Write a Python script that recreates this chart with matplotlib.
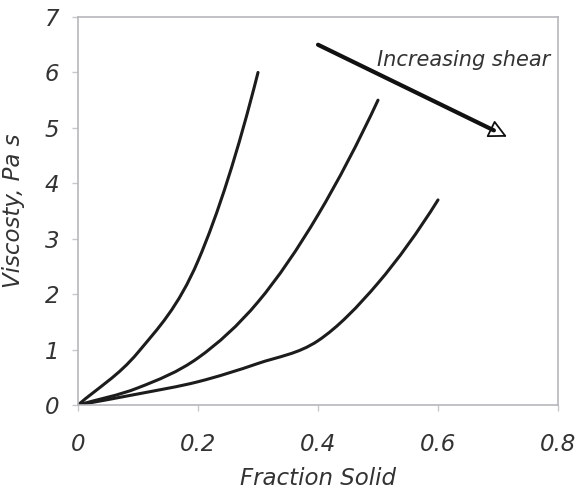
import numpy as np
import matplotlib
matplotlib.use('Agg')
import matplotlib.pyplot as plt
from matplotlib.path import Path
from matplotlib.patches import PathPatch

# values
frac_1 = [0, 0.1, 0.2, 0.3]
visc_1 = [0, 0.95, 2.6, 6.0]

frac_2 = [0, 0.1, 0.2, 0.3, 0.4, 0.5]
visc_2 = [0, 0.31, 0.85, 1.86, 3.43, 5.5]

frac_3 = [0, 0.1, 0.2, 0.3, 0.4, 0.5, 0.6]
visc_3 = [0, 0.2, 0.42, 0.75, 1.16, 2.2, 3.7]

x_ticks = [0, 0.2, 0.4, 0.6, 0.8]
x_tick_labels = ['0', '0.2', '0.4', '0.6', '0.8']
y_ticks = [0, 1, 2, 3, 4, 5, 6, 7]

arrow_start = (0.4, 6.5)
arrow_end = (0.715, 4.84)


def smooth_path(xs, ys):
    # smoothed line through the points (like a spreadsheet "smoothed line")
    pts = np.column_stack([xs, ys]).astype(float)
    n = len(pts)
    tang = np.zeros_like(pts)
    tang[1:-1] = (pts[2:] - pts[:-2]) / 2
    tang[0] = pts[1] - pts[0]
    tang[-1] = 2 * (pts[-1] - pts[-2]) - tang[-2]
    verts = [pts[0]]
    codes = [Path.MOVETO]
    for i in range(n - 1):
        verts += [pts[i] + tang[i] / 3, pts[i + 1] - tang[i + 1] / 3, pts[i + 1]]
        codes += [Path.CURVE4] * 3
    return Path(verts, codes)


plt.rcParams['font.family'] = 'DejaVu Sans'
plt.rcParams['font.style'] = 'italic'

fig = plt.figure(figsize=(5.81, 4.92), dpi=100)
ax = fig.add_axes([0.1343, 0.1768, 0.8261, 0.7886])

line_color = '#1c1c1c'
for fx, vy in [(frac_1, visc_1), (frac_2, visc_2), (frac_3, visc_3)]:
    ax.add_patch(PathPatch(smooth_path(fx, vy), fill=False, edgecolor=line_color,
                           linewidth=2.2, capstyle='round', joinstyle='round'))

ax.set_xlim(0, 0.8)
ax.set_ylim(0, 7)
ax.set_xticks(x_ticks)
ax.set_xticklabels(x_tick_labels)
ax.set_yticks(y_ticks)

for side in ['left', 'bottom', 'top', 'right']:
    ax.spines[side].set_color('#b8b8bc')
    ax.spines[side].set_linewidth(1.2)

ax.tick_params(axis='both', colors='#c8c8cc', length=4.5, width=1, direction='out',
               labelcolor='#333333', labelsize=16.5)
ax.tick_params(axis='x', pad=16)
ax.tick_params(axis='y', pad=9)

ax.set_xlabel('Fraction Solid', fontsize=16.5, color='#333333')
ax.set_ylabel('Viscosty, Pa s', fontsize=16.5, color='#333333')
ax.xaxis.set_label_coords(0.5, -0.16)
ax.yaxis.set_label_coords(-0.11, 0.5)

# arrow: thick shaft + small open triangular head
ax.annotate('', xy=arrow_end, xytext=arrow_start,
            arrowprops=dict(arrowstyle='-|>,head_length=0.75,head_width=0.38',
                            mutation_scale=15, fc='white', ec='#111111',
                            linewidth=1.3, shrinkA=0, shrinkB=0))
ax.annotate('', xy=arrow_end, xytext=arrow_start,
            arrowprops=dict(arrowstyle='-', color='#111111', linewidth=3,
                            shrinkA=0, shrinkB=10.5, capstyle='round'))
ax.text(0.498, 6.22, 'Increasing shear', fontsize=15, color='#333333',
        ha='left', va='center')

fig.savefig('out.png', dpi=100)
